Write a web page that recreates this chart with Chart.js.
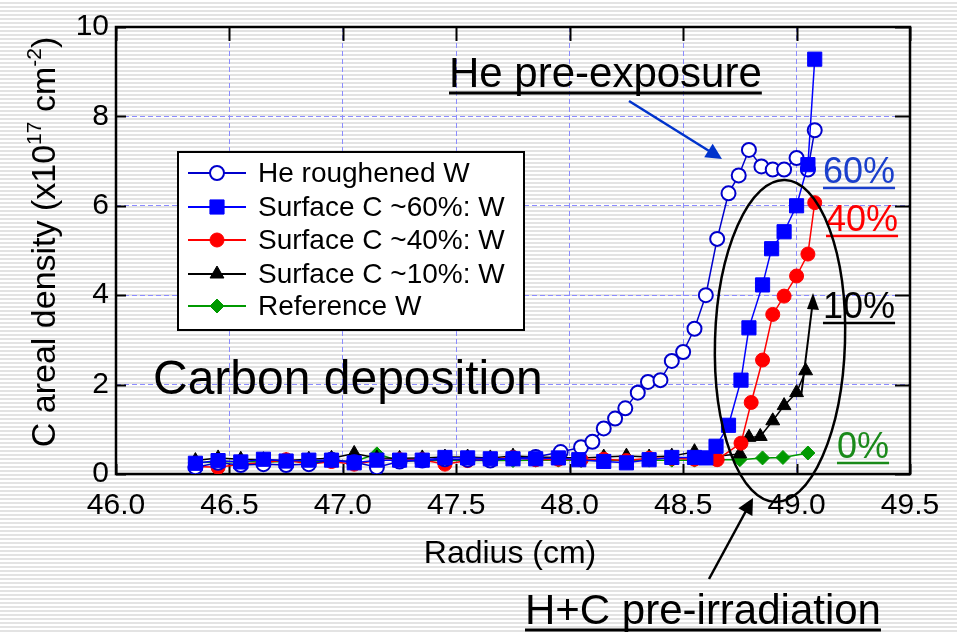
<!DOCTYPE html>
<html>
<head>
<meta charset="utf-8">
<script src="https://cdn.jsdelivr.net/npm/chart.js@4.4.1/dist/chart.umd.min.js"></script>
<style>
  html, body { margin: 0; padding: 0; }
  body {
    width: 957px; height: 632px; overflow: hidden;
    background: repeating-linear-gradient(to bottom, #ffffff 0px, #ffffff 2px, #e3e3e3 2px, #e3e3e3 4px);
  }
</style>
</head>
<body>
<canvas id="chart" width="957" height="632"></canvas>
<script>
// x ticks / y ticks
var xTicks = [46.0, 46.5, 47.0, 47.5, 48.0, 48.5, 49.0, 49.5];
var yTicks = [0, 2, 4, 6, 8, 10];

// He roughened W
var heX = [46.35, 46.45, 46.55, 46.65, 46.75, 46.85, 46.95, 47.05, 47.15, 47.25, 47.35, 47.45, 47.55, 47.65, 47.75, 47.85,
  47.96, 48.05, 48.10, 48.15, 48.20, 48.245, 48.30, 48.345, 48.40, 48.45, 48.50, 48.55, 48.60, 48.65, 48.70, 48.745,
  48.79, 48.845, 48.895, 48.945, 49.00, 49.05, 49.08];
var heY = [0.15, 0.25, 0.20, 0.22, 0.20, 0.22, 0.32, 0.27, 0.15, 0.28, 0.30, 0.33, 0.32, 0.30, 0.35, 0.38,
  0.49, 0.60, 0.72, 1.02, 1.24, 1.47, 1.82, 2.06, 2.10, 2.53, 2.73, 3.25, 4.00, 5.26, 6.28, 6.68,
  7.25, 6.88, 6.81, 6.81, 7.07, 6.81, 7.69];

// Surface C ~60%
var c60X = [46.35, 46.45, 46.55, 46.65, 46.75, 46.85, 46.95, 47.05, 47.15, 47.25, 47.35, 47.45, 47.55, 47.65, 47.75, 47.85,
  47.95, 48.04, 48.15, 48.25, 48.35, 48.45, 48.55, 48.60, 48.645, 48.70, 48.755, 48.79, 48.85, 48.89, 48.945, 49.00, 49.05, 49.08];
var c60Y = [0.24, 0.30, 0.27, 0.33, 0.29, 0.31, 0.31, 0.25, 0.31, 0.31, 0.31, 0.37, 0.36, 0.34, 0.34, 0.34,
  0.36, 0.32, 0.28, 0.25, 0.32, 0.37, 0.37, 0.36, 0.62, 1.09, 2.10, 3.27, 4.23, 5.04, 5.42, 6.00, 6.92, 9.28];

// Surface C ~40%
var c40X = [46.35, 46.45, 46.55, 46.65, 46.75, 46.85, 46.95, 47.05, 47.15, 47.25, 47.35, 47.45, 47.55, 47.65, 47.75, 47.85,
  47.95, 48.05, 48.15, 48.25, 48.35, 48.45, 48.55, 48.65, 48.755, 48.80, 48.85, 48.895, 48.945, 49.00, 49.05, 49.08];
var c40Y = [0.17, 0.15, 0.22, 0.25, 0.32, 0.22, 0.28, 0.22, 0.30, 0.32, 0.32, 0.22, 0.30, 0.33, 0.37, 0.32,
  0.33, 0.32, 0.33, 0.30, 0.35, 0.35, 0.33, 0.32, 0.69, 1.60, 2.55, 3.57, 3.98, 4.43, 4.92, 6.07];

// Surface C ~10%
var c10X = [46.35, 46.45, 46.55, 46.65, 46.75, 46.85, 46.95, 47.05, 47.15, 47.25, 47.35, 47.45, 47.55, 47.65, 47.75, 47.85,
  47.95, 48.05, 48.15, 48.25, 48.35, 48.45, 48.55, 48.65, 48.75, 48.79, 48.84, 48.895, 48.945, 49.00, 49.04];
var c10Y = [0.30, 0.36, 0.33, 0.32, 0.30, 0.33, 0.35, 0.46, 0.36, 0.35, 0.36, 0.38, 0.38, 0.36, 0.40, 0.38,
  0.37, 0.36, 0.38, 0.40, 0.38, 0.40, 0.50, 0.40, 0.45, 0.82, 0.84, 1.19, 1.53, 1.82, 2.31];

// Reference W
var refX = [46.35, 46.45, 46.55, 46.65, 46.75, 46.85, 46.95, 47.05, 47.15, 47.25, 47.35, 47.45, 47.55, 47.65, 47.75, 47.85,
  47.95, 48.05, 48.15, 48.25, 48.35, 48.45, 48.55, 48.65, 48.75, 48.85, 48.94, 49.05];
var refY = [0.26, 0.27, 0.28, 0.27, 0.28, 0.28, 0.29, 0.28, 0.45, 0.29, 0.30, 0.30, 0.30, 0.31, 0.30, 0.31,
  0.31, 0.30, 0.31, 0.30, 0.31, 0.31, 0.31, 0.32, 0.32, 0.36, 0.37, 0.47];

var seriesNames = ['He roughened W', 'Surface C ~60%: W', 'Surface C ~40%: W', 'Surface C ~10%: W', 'Reference W'];

function pts(xs, ys) {
  return xs.map(function (x, i) { return { x: x, y: ys[i] }; });
}

var FONT = "'Liberation Sans', Arial, sans-serif";
Chart.defaults.font.family = FONT;
Chart.defaults.color = '#000';

// frame, inward ticks, legend box and the slide annotations
function arrow(ctx, x1, y1, x2, y2, color, lw, head) {
  var a = Math.atan2(y2 - y1, x2 - x1);
  ctx.strokeStyle = color; ctx.fillStyle = color; ctx.lineWidth = lw;
  ctx.beginPath();
  ctx.moveTo(x1, y1);
  ctx.lineTo(x2 - Math.cos(a) * head * 0.8, y2 - Math.sin(a) * head * 0.8);
  ctx.stroke();
  ctx.beginPath();
  ctx.moveTo(x2, y2);
  ctx.lineTo(x2 - head * Math.cos(a) + head * 0.5 * Math.sin(a), y2 - head * Math.sin(a) - head * 0.5 * Math.cos(a));
  ctx.lineTo(x2 - head * Math.cos(a) - head * 0.5 * Math.sin(a), y2 - head * Math.sin(a) + head * 0.5 * Math.cos(a));
  ctx.closePath();
  ctx.fill();
}

function uText(ctx, str, x, y, size, color, uOff, uW) {
  ctx.font = size + 'px ' + FONT;
  ctx.fillStyle = color;
  ctx.textAlign = 'left';
  ctx.textBaseline = 'alphabetic';
  ctx.fillText(str, x, y);
  var w = ctx.measureText(str).width;
  ctx.strokeStyle = color;
  ctx.lineWidth = uW;
  ctx.beginPath();
  ctx.moveTo(x, y + uOff);
  ctx.lineTo(x + w, y + uOff);
  ctx.stroke();
}

var decor = {
  id: 'decor',
  beforeDatasetsDraw: function (chart) {
    var ctx = chart.ctx, a = chart.chartArea;
    var sx = chart.scales.x, sy = chart.scales.y;
    ctx.save();
    ctx.strokeStyle = '#000';
    ctx.lineWidth = 2;
    ctx.beginPath();
    sx.ticks.forEach(function (t) {
      var px = Math.round(sx.getPixelForValue(t.value)) + 0.5;
      ctx.moveTo(px, a.bottom); ctx.lineTo(px, a.bottom - 10);
      ctx.moveTo(px, a.top); ctx.lineTo(px, a.top + 14);
    });
    sy.ticks.forEach(function (t) {
      var py = Math.round(sy.getPixelForValue(t.value)) + 0.5;
      ctx.moveTo(a.left, py); ctx.lineTo(a.left + 10, py);
      ctx.moveTo(a.right, py); ctx.lineTo(a.right - 15, py);
    });
    ctx.stroke();
    ctx.lineWidth = 2.5;
    ctx.strokeRect(a.left, a.top, a.right - a.left, a.bottom - a.top);
    ctx.restore();
  },
  afterDraw: function (chart) {
    var ctx = chart.ctx, a = chart.chartArea;
    ctx.save();

    // axis titles
    ctx.fillStyle = '#000';
    ctx.font = '32px ' + FONT;
    ctx.textAlign = 'center';
    ctx.textBaseline = 'alphabetic';
    ctx.fillText('Radius (cm)', (a.left + a.right) / 2 - 3, 563);

    ctx.save();
    ctx.translate(55, 242);
    ctx.rotate(-Math.PI / 2);
    var parts = [['C areal density (x10', 34, 0], ['17', 21, -14], [' cm', 34, 0], ['-2', 21, -14], [')', 34, 0]];
    var total = 0;
    parts.forEach(function (p) { ctx.font = p[1] + 'px ' + FONT; total += ctx.measureText(p[0]).width; });
    var cx = -total / 2;
    ctx.textAlign = 'left';
    parts.forEach(function (p) {
      ctx.font = p[1] + 'px ' + FONT;
      ctx.fillText(p[0], cx, p[2]);
      cx += ctx.measureText(p[0]).width;
    });
    ctx.restore();

    // legend box
    var lx = 178, ly = 152, lw = 346, lh = 178;
    ctx.fillStyle = '#fff';
    ctx.fillRect(lx, ly, lw, lh);
    ctx.strokeStyle = '#000';
    ctx.lineWidth = 2;
    ctx.strokeRect(lx, ly, lw, lh);
    var rows = [173, 207, 240, 274, 306];
    chart.data.datasets.forEach(function (ds, i) {
      var y = rows[i];
      ctx.strokeStyle = ds.borderColor;
      ctx.lineWidth = 2;
      ctx.beginPath(); ctx.moveTo(188, y); ctx.lineTo(246, y); ctx.stroke();
      ctx.fillStyle = ds.pointBackgroundColor;
      ctx.strokeStyle = ds.pointBorderColor;
      ctx.lineWidth = ds.pointBorderWidth;
      Chart.helpers.drawPoint(ctx, { pointStyle: ds.pointStyle, radius: ds.pointRadius, rotation: 0, borderWidth: ds.pointBorderWidth }, 217, y);
      ctx.fillStyle = '#000';
      ctx.font = '28px ' + FONT;
      ctx.textAlign = 'left';
      ctx.textBaseline = 'middle';
      ctx.fillText(ds.label, 258, y + 1);
    });

    // annotations
    uText(ctx, 'He pre-exposure', 449, 87, 42, '#000', 6, 3);
    arrow(ctx, 629, 101, 722, 159, '#0033cc', 2.5, 16);

    ctx.fillStyle = '#000';
    ctx.font = '48px ' + FONT;
    ctx.textAlign = 'left';
    ctx.textBaseline = 'alphabetic';
    ctx.fillText('Carbon deposition', 153, 394);

    uText(ctx, '60%', 823, 183, 36, '#1a3fcc', 5, 2.5);
    uText(ctx, '40%', 826, 231, 36, '#ff0000', 5, 2.5);
    uText(ctx, '10%', 823, 318, 36, '#000', 5, 2.5);
    uText(ctx, '0%', 837, 458, 36, '#1a8a1a', 5, 2.5);

    // ellipse round the H+C pre-irradiated curves
    ctx.strokeStyle = '#000';
    ctx.lineWidth = 2.5;
    ctx.beginPath();
    ctx.ellipse(780, 341, 65, 161, 0.03, 0, Math.PI * 2);
    ctx.stroke();

    // 10% curved arrow
    ctx.lineWidth = 2;
    ctx.beginPath();
    ctx.moveTo(801, 397);
    ctx.quadraticCurveTo(807, 350, 812, 308);
    ctx.stroke();
    ctx.fillStyle = '#000';
    ctx.beginPath();
    ctx.moveTo(813, 293); ctx.lineTo(807, 309); ctx.lineTo(819, 310); ctx.closePath();
    ctx.fill();

    uText(ctx, 'H+C pre-irradiation', 525, 624, 42, '#000', 6, 3);
    arrow(ctx, 709, 579, 753, 498, '#000', 2.5, 16);

    ctx.restore();
  }
};

var ctx = document.getElementById('chart').getContext('2d');
var chart = new Chart(ctx, {
  type: 'scatter',
  data: {
    datasets: [{
      label: seriesNames[0],
      data: pts(heX, heY),
      showLine: true,
      borderColor: '#0000cc', borderWidth: 1.5,
      pointStyle: 'circle', pointRadius: 7,
      pointBackgroundColor: '#ffffff', pointBorderColor: '#0000cc', pointBorderWidth: 2,
      order: 1
    }, {
      label: seriesNames[1],
      data: pts(c60X, c60Y),
      showLine: true,
      borderColor: '#0000ff', borderWidth: 1.5,
      pointStyle: 'rect', pointRadius: 10,
      pointBackgroundColor: '#0000ff', pointBorderColor: '#0000ff', pointBorderWidth: 1,
      order: 0
    }, {
      label: seriesNames[2],
      data: pts(c40X, c40Y),
      showLine: true,
      borderColor: '#ff0000', borderWidth: 1.5,
      pointStyle: 'circle', pointRadius: 7,
      pointBackgroundColor: '#ff0000', pointBorderColor: '#ff0000', pointBorderWidth: 1,
      order: 2
    }, {
      label: seriesNames[3],
      data: pts(c10X, c10Y),
      showLine: true,
      borderColor: '#000000', borderWidth: 1.5,
      pointStyle: 'triangle', pointRadius: 8,
      pointBackgroundColor: '#000000', pointBorderColor: '#000000', pointBorderWidth: 1,
      order: 3
    }, {
      label: seriesNames[4],
      data: pts(refX, refY),
      showLine: true,
      borderColor: '#009900', borderWidth: 1.5,
      pointStyle: 'rectRot', pointRadius: 7,
      pointBackgroundColor: '#009900', pointBorderColor: '#009900', pointBorderWidth: 1,
      order: 4
    }]
  },
  options: {
    responsive: false,
    animation: false,
    layout: { padding: { top: 27, right: 47, left: 0, bottom: 0 } },
    plugins: { legend: { display: false }, title: { display: false }, tooltip: { enabled: false } },
    scales: {
      x: {
        type: 'linear', min: 46, max: 49.5,
        afterBuildTicks: function (s) { s.ticks = xTicks.map(function (v) { return { value: v }; }); },
        afterFit: function (s) { s.height = 158; },
        ticks: {
          padding: 14, font: { size: 30 }, color: '#000', maxRotation: 0, autoSkip: false,
          callback: function (v) { return Number(v).toFixed(1); }
        },
        grid: { color: '#8c8cff', lineWidth: 1, drawTicks: false },
        border: { display: false, dash: [5, 3] }
      },
      y: {
        type: 'linear', min: 0, max: 10,
        afterBuildTicks: function (s) { s.ticks = yTicks.map(function (v) { return { value: v }; }); },
        afterFit: function (s) { s.width = 116; },
        ticks: { padding: 7, font: { size: 30 }, color: '#000' },
        grid: { color: '#8c8cff', lineWidth: 1, drawTicks: false },
        border: { display: false, dash: [5, 3] }
      }
    }
  },
  plugins: [decor]
});
</script>
</body>
</html>
